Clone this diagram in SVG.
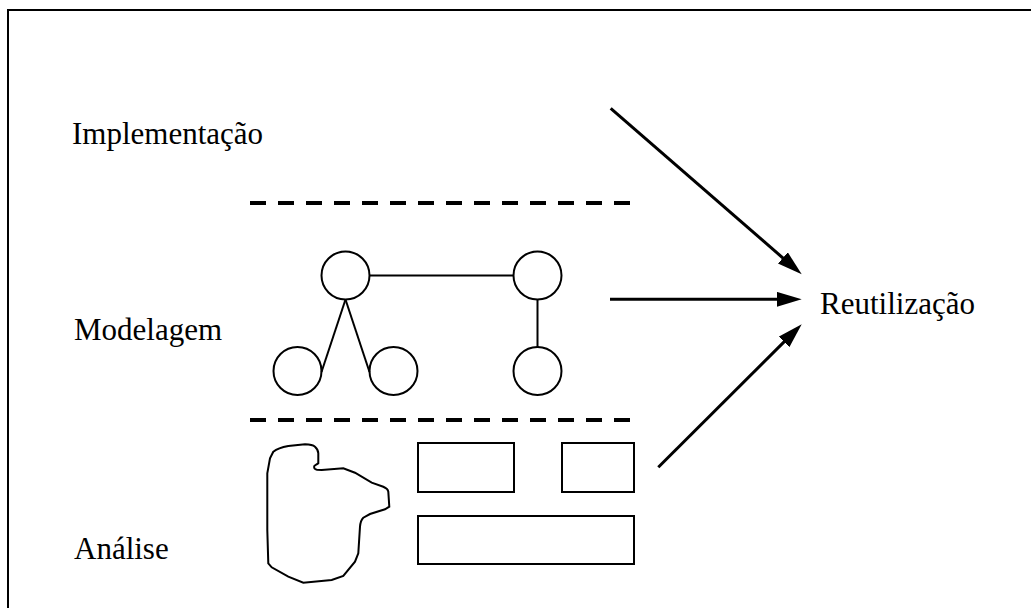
<svg xmlns="http://www.w3.org/2000/svg" width="1031" height="608" viewBox="0 0 1031 608">
<style>
.lbl{font-family:"Liberation Serif","Times New Roman",serif;font-size:31px;fill:#000}
.shape{fill:none;stroke:#000;stroke-width:2}
.dash{fill:none;stroke:#000;stroke-width:4;stroke-dasharray:16 12}
.arrow{fill:none;stroke:#000;stroke-width:3}
</style>
<defs>
<marker id="ah" markerUnits="userSpaceOnUse" markerWidth="26" markerHeight="16" refX="10" refY="7.5" orient="auto">
<path d="M0,0 L25,7.5 L0,15 z" fill="#000"/>
</marker>
</defs>
<rect x="0" y="0" width="1031" height="608" fill="#fff"/>
<rect id="frame" x="8" y="10" width="1100" height="700" fill="none" stroke="#000" stroke-width="2"/>
<g id="labels">
<text id="implementacao" class="lbl" x="72" y="144">Implementação</text>
<text id="modelagem" class="lbl" x="74" y="340">Modelagem</text>
<text id="analise" class="lbl" x="74" y="559">Análise</text>
<text id="reutilizacao" class="lbl" x="820" y="314">Reutilização</text>
</g>
<g id="separators">
<line class="dash" x1="250" y1="203" x2="632" y2="203"/>
<line class="dash" x1="250" y1="420" x2="632" y2="420"/>
</g>
<g id="model">
<g id="c1"><circle class="shape" cx="345.5" cy="275.5" r="24"/></g>
<g id="c2"><circle class="shape" cx="537.5" cy="275.5" r="24"/></g>
<g id="c3"><circle class="shape" cx="297.5" cy="371" r="24"/></g>
<g id="c4"><circle class="shape" cx="393.5" cy="371" r="24"/></g>
<g id="c5"><circle class="shape" cx="537.5" cy="371" r="24"/></g>
<g id="model-links">
<line class="shape" x1="369.5" y1="275.5" x2="513.5" y2="275.5"/>
<line class="shape" x1="345.5" y1="299.5" x2="321.5" y2="372"/>
<line class="shape" x1="345.5" y1="299.5" x2="369.5" y2="372"/>
<line class="shape" x1="537.5" y1="299.5" x2="537.5" y2="347"/>
</g>
</g>
<g id="analysis">
<g id="blob"><path class="shape" d="M273.3,451.7 C278,448 283,447 288.3,446 L305,444.3 C310,444.5 313,445 315,446.7 C317.5,449 318.3,451 318.3,453.3 L318.3,463.3 C317,464.5 315,465 314.3,466 C313.8,468 314.5,469.3 317,469.8 L321.7,470 L343.3,468.3 L355,472.7 L371.7,482.7 L383.3,486.7 C386.5,488 388,489.5 388.3,491.7 L389.3,506.7 L385,509.3 L370,514 L363.3,517.7 C361,520 360.3,523 360,526.7 L358.3,553.3 L355,561.7 L343.3,576 L331.7,580 L303.3,582.7 L288.3,576.7 L271.7,567.3 L268.3,563.3 L267.3,530 L267.3,473.3 L270,458.3 Z"/></g>
<g id="r1"><rect class="shape" x="418" y="443" width="96" height="49"/></g>
<g id="r2"><rect class="shape" x="562" y="443" width="72" height="49"/></g>
<g id="r3"><rect class="shape" x="418" y="516" width="216" height="48"/></g>
</g>
<g id="connectors">
<line class="arrow" x1="610.7" y1="108.3" x2="790.4" y2="264.5" marker-end="url(#ah)"/>
<line class="arrow" x1="610" y1="299.3" x2="786.7" y2="299.3" marker-end="url(#ah)"/>
<line class="arrow" x1="658.3" y1="467.3" x2="791.1" y2="334.9" marker-end="url(#ah)"/>
</g>
</svg>
